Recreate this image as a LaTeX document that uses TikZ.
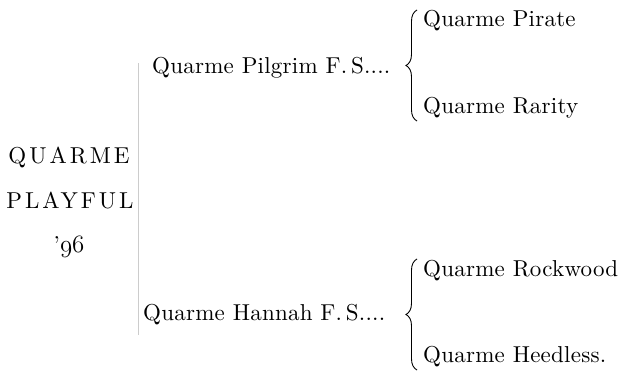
\documentclass[tikz,border=0pt]{standalone}
\usepackage{fontspec}
\setmainfont{lmroman10-regular}[Extension=.otf]
\usepackage{tikz}
\usetikzlibrary{positioning,decorations.pathreplacing}

\begin{document}
\begin{tikzpicture}[x=1pt,y=-1pt]
  \tikzstyle{horse}=[inner sep=0pt,anchor=base west,
    font=\fontsize{23}{28}\selectfont\addfontfeatures{LetterSpace=1}]
  \tikzstyle{damname}=[inner sep=0pt,anchor=base,
    font=\fontsize{23}{27}\selectfont\addfontfeatures{LetterSpace=13}]
  \tikzstyle{pbrace}=[decorate,decoration={brace,amplitude=11pt},line width=0.9pt]
  \useasboundingbox (0,0) rectangle (619,372);
  % dam column
  \node[damname] (dnA) at (69,163) {QUARME};
  \node[damname] (dnB) at (70,208) {PLAYFUL};
  \node[damname] (dnC) at (69,252) {'{\usefont{OML}{cmm}{m}{it}96}};
  % sire and dam
  \node[horse] (pilgrim) at (152,73) {Quarme Pilgrim F.\,S....};
  \node[horse] (hannah) at (143,320) {Quarme Hannah F.\,S....};
  % grandparents
  \node[horse] (pirate) at (423,27) {Quarme Pirate};
  \node[horse] (rarity) at (423,113) {Quarme Rarity};
  \node[horse] (rockwood) at (423,276) {Quarme Rockwood};
  \node[horse] (heedless) at (423,362) {Quarme Heedless.};
  \draw[pbrace] ([xshift=-6pt,yshift=-8pt]rarity.base west) -- ([xshift=-6pt,yshift=17pt]pirate.base west);
  \draw[pbrace] ([xshift=-6pt,yshift=-8pt]heedless.base west) -- ([xshift=-6pt,yshift=17pt]rockwood.base west);
  % faint bracket line
  \coordinate (lt) at (138,63);
  \coordinate (lb) at (138,335);
  \draw[black!20,line width=0.5pt] (lt) -- (lb);
\end{tikzpicture}
\end{document}
